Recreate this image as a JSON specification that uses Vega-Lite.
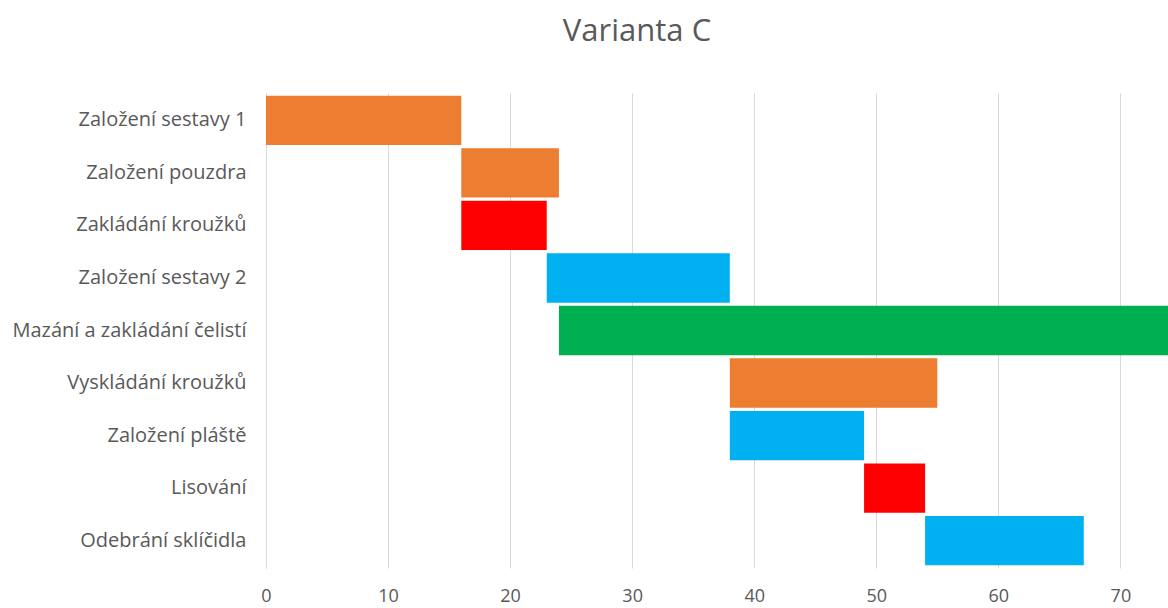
{
  "$schema": "https://vega.github.io/schema/vega-lite/v6.json",
  "autosize": {"type": "none"},
  "width": 902,
  "height": 475,
  "padding": {"left": 266, "top": 93, "right": 0, "bottom": 40},
  "background": "#ffffff",
  "title": {
    "text": "Varianta C",
    "font": "Open Sans",
    "fontSize": 31,
    "fontWeight": "normal",
    "color": "#595959",
    "anchor": "middle",
    "dx": -80,
    "offset": 45
  },
  "config": {
    "view": {"stroke": null},
    "font": "Open Sans"
  },
  "data": {
    "values": [
      {"task": "Založení sestavy 1", "start": 0, "end": 16, "group": "o"},
      {"task": "Založení pouzdra", "start": 16, "end": 24, "group": "o"},
      {"task": "Zakládání kroužků", "start": 16, "end": 23, "group": "r"},
      {"task": "Založení sestavy 2", "start": 23, "end": 38, "group": "b"},
      {"task": "Mazání a zakládání čelistí", "start": 24, "end": 78, "group": "g"},
      {"task": "Vyskládání kroužků", "start": 38, "end": 55, "group": "o"},
      {"task": "Založení pláště", "start": 38, "end": 49, "group": "b"},
      {"task": "Lisování", "start": 49, "end": 54, "group": "r"},
      {"task": "Odebrání sklíčidla", "start": 54, "end": 67, "group": "b"}
    ]
  },
  "mark": {"type": "bar", "clip": true},
  "encoding": {
    "y": {
      "field": "task",
      "type": "nominal",
      "sort": null,
      "scale": {"paddingInner": 0.06, "paddingOuter": 0.05},
      "axis": {
        "title": null,
        "ticks": false,
        "domain": true,
        "domainColor": "#d9d9d9",
        "domainWidth": 1,
        "labelFont": "Open Sans",
        "labelFontSize": 20,
        "labelColor": "#595959",
        "labelPadding": 20,
        "labelLimit": 400
      }
    },
    "x": {
      "field": "start",
      "type": "quantitative",
      "scale": {"domain": [0, 73.9], "nice": false, "zero": false},
      "axis": {
        "title": null,
        "values": [0, 10, 20, 30, 40, 50, 60, 70],
        "ticks": false,
        "domain": false,
        "grid": true,
        "gridColor": "#d9d9d9",
        "gridWidth": 1,
        "labelFont": "Open Sans",
        "labelFontSize": 18,
        "labelColor": "#595959",
        "labelPadding": 19,
        "labelFlush": false
      }
    },
    "x2": {"field": "end"},
    "color": {
      "field": "group",
      "type": "nominal",
      "scale": {"domain": ["o", "r", "b", "g"], "range": ["#ED7D31", "#FF0000", "#00B0F0", "#00B050"]},
      "legend": null
    }
  }
}
